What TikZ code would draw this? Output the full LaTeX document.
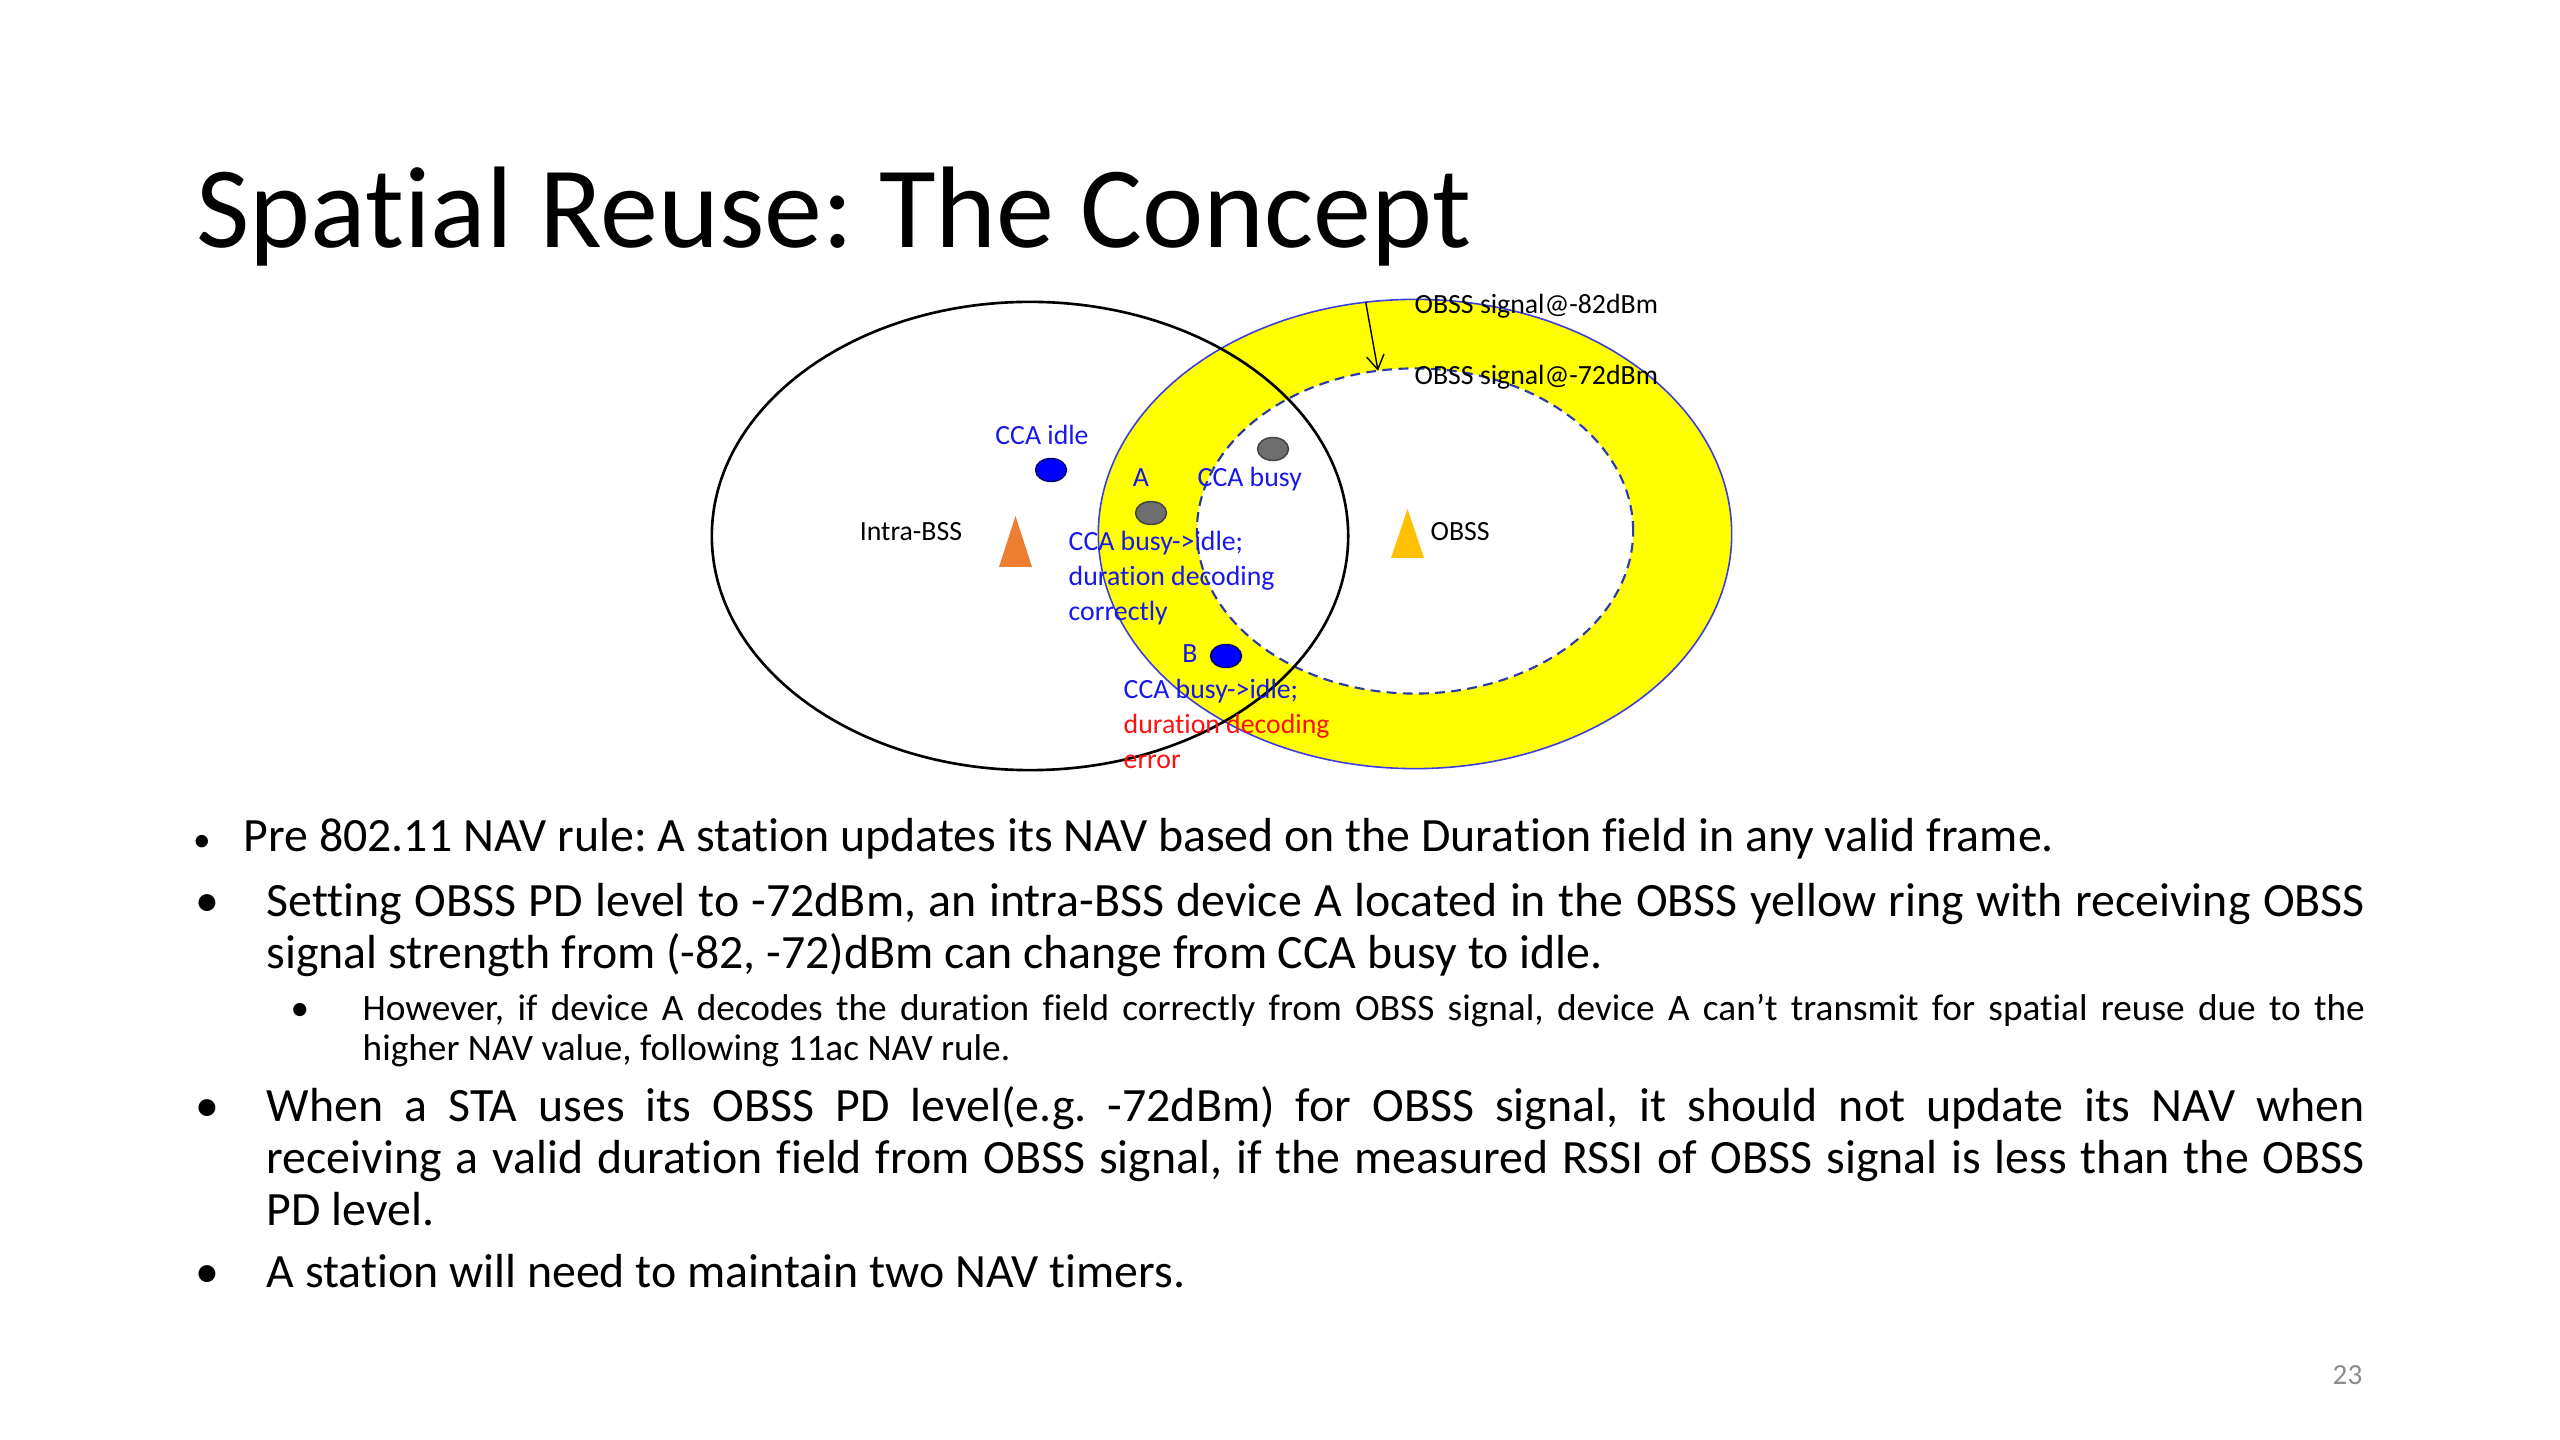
\documentclass[tikz,border=0pt]{standalone}
\usepackage{fontspec}
\setmainfont{Carlito}[Ligatures=NoCommon]
\frenchspacing
\usetikzlibrary{arrows.meta, positioning, shapes.geometric}
\definecolor{ringyellow}{HTML}{FFFF00}
\definecolor{ringblue}{HTML}{3C3CE0}
\definecolor{dashblue}{HTML}{2A3AA8}
\definecolor{staorange}{HTML}{ED7D31}
\definecolor{obssgold}{HTML}{FFC000}
\definecolor{lblblue}{HTML}{1818EA}
\definecolor{lblred}{HTML}{FF1010}
\definecolor{stagray}{HTML}{6E6E6E}
\definecolor{pagegray}{HTML}{8C8C8C}
\newlength{\bodyw}\setlength{\bodyw}{20.97cm}
\newlength{\subw}\setlength{\subw}{20.01cm}
% align=left fixes the word space; give the font's own back
\newcommand{\natsp}{\spaceskip=0pt\xspaceskip=0pt\relax}
\newcommand{\jline}[2]{\makebox[#1][s]{\natsp#2}}
\tikzset{
  zone/.style  = {ellipse, inner sep=0pt, outer sep=0pt},
  sta/.style   = {draw, ellipse, line width=0.4pt, inner sep=0pt,
                  minimum width=0.31cm, minimum height=0.23cm},
  idle/.style  = {sta, fill=blue, draw=blue!45!black},
  busy/.style  = {sta, fill=stagray, draw=black!75},
  lbl/.style   = {font=\fontsize{7.9}{9.9}\selectfont, inner sep=0pt},
  note/.style  = {lbl, align=left, text width=3.2cm},
  body/.style  = {font=\fontsize{13.6}{14.8}\selectfont, inner sep=0pt,
                  align=left, anchor=base west},
  sub/.style   = {font=\fontsize{10.6}{11.4}\selectfont, inner sep=0pt,
                  align=left, anchor=base west},
  blt/.style   = {inner sep=0pt, anchor=base},
  arr/.style   = {-{Straight Barb[length=4pt, width=5pt]}, line width=0.4pt}
}

\begin{document}
\begin{tikzpicture}[x=0.01cm, y=-0.01cm]

  \useasboundingbox[fill=white] (0,0) rectangle (2560,1440);

  % ── Title ─────────────────────────────────────────────────────────────────
  \node[anchor=base west, inner sep=0pt, font=\fontsize{33}{36}\selectfont]
        (title) at (196,248) {Spatial Reuse: The Concept};

  % ── Coverage areas ────────────────────────────────────────────────────────
  \node[zone, fill=ringyellow, draw=ringblue, line width=0.45pt,
        minimum width=6.33cm, minimum height=4.69cm]        (ring)  at (1415,534) {};
  \node[zone, fill=white, draw=dashblue, line width=0.6pt,
        dash pattern=on 2.8pt off 1.8pt,
        minimum width=4.36cm, minimum height=3.25cm]        (inner) at (1415,531) {};
  \node[zone, draw=black, line width=0.75pt,
        minimum width=6.36cm, minimum height=4.68cm]        (intra) at (1030,536) {};

  % ── Access points ─────────────────────────────────────────────────────────
  \coordinate (apIntra) at (1015,541);
  \coordinate (apObss)  at (1407,533);
  \fill[staorange] (apIntra) ++(-16,26) -- ++(16.5,-51) -- ++(16.5,51) -- cycle;
  \fill[obssgold]  (apObss)  ++(-16,25) -- ++(16.5,-49) -- ++(16.5,49) -- cycle;

  % ── Stations ──────────────────────────────────────────────────────────────
  \node[idle] (staIdle) at (1051,470) {};
  \node[busy] (staA)    at (1151,513) {};
  \node[busy] (staBusy) at (1273,449) {};
  \node[idle] (staB)    at (1226,656) {};

  % ── Labels ────────────────────────────────────────────────────────────────
  \node[lbl, anchor=base]                  (intraL) at (911,541)  {Intra-BSS};
  \node[lbl, anchor=base west]             (obssL)  at (1430,541) {OBSS};
  \node[lbl, anchor=base, text=lblblue]    (idleL)  at (1042,445) {CCA idle};
  \node[lbl, anchor=base, text=lblblue]    (aL)     at (1141,487) {A};
  \node[lbl, anchor=base west, text=lblblue] (busyL) at (1197,487) {CCA busy};
  \node[lbl, anchor=base, text=lblblue]    (bL)     at (1190,663) {B};

  \node[note, anchor=base west, text=lblblue] (noteA) at (1068,551)
        {\natsp CCA busy->idle;\\ duration decoding\\ correctly};
  \node[note, anchor=base west] (noteB) at (1123,699)
        {\natsp\textcolor{lblblue}{CCA busy->idle;}\\ \textcolor{lblred}{duration decoding}\\
         \textcolor{lblred}{error}};

  % signal levels
  \node[lbl, anchor=base west] (lvl82) at (1414,314) {OBSS signal@-82dBm};
  \node[lbl, anchor=base west] (lvl72) at (1414,385) {OBSS signal@-72dBm};
  \draw[arr] (ring.102.2) -- (inner.103.7);

  % ── Bullets ───────────────────────────────────────────────────────────────
  \node[blt, font=\fontsize{10}{12}\selectfont]   (b1) at (202,852) {•};
  \node[body] (t1) at (243,852)
        {Pre 802.11 NAV rule: A station updates its NAV based on the Duration field in any valid frame.};

  \node[blt, font=\fontsize{13.6}{14.8}\selectfont] (b2) at (207,916) {•};
  \node[body, text width=\bodyw] (t2) at (266,916)
        {\natsp\jline{\bodyw}{Setting OBSS PD level to -72dBm, an intra-BSS device A located in the OBSS yellow ring with receiving OBSS}\\
         signal strength from (-82, -72)dBm can change from CCA busy to idle.};

  \node[blt, font=\fontsize{10.6}{11.4}\selectfont] (b21) at (300,1020) {•};
  \node[sub, text width=\subw] (t21) at (362,1020)
        {\natsp\jline{\subw}{However, if device A decodes the duration field correctly from OBSS signal, device A can’t transmit for spatial reuse due to the}\\
         higher NAV value, following 11ac NAV rule.};

  \node[blt, font=\fontsize{13.6}{14.8}\selectfont] (b3) at (207,1121) {•};
  \node[body, text width=\bodyw] (t3) at (266,1121)
        {\natsp\jline{\bodyw}{When a STA uses its OBSS PD level(e.g. -72dBm) for OBSS signal, it should not update its NAV when}\\
         \jline{\bodyw}{receiving a valid duration field from OBSS signal, if the measured RSSI of OBSS signal is less than the OBSS}\\
         PD level.};

  \node[blt, font=\fontsize{13.6}{14.8}\selectfont] (b4) at (207,1287) {•};
  \node[body] (t4) at (266,1287) {A station will need to maintain two NAV timers.};

  % page number
  \node[anchor=base east, inner sep=0pt, text=pagegray,
        font=\fontsize{8.3}{10}\selectfont] (page) at (2363,1384) {23};

\end{tikzpicture}
\end{document}
